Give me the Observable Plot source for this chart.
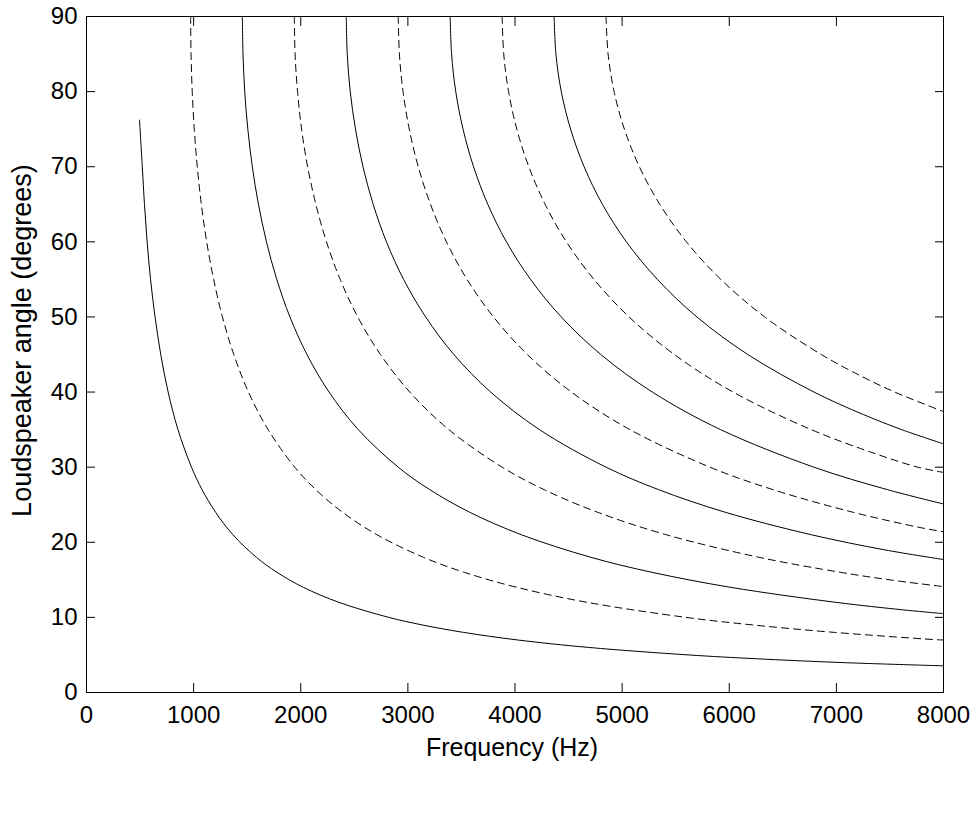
<!DOCTYPE html>
<html><head><meta charset="utf-8">
<script src="https://cdn.jsdelivr.net/npm/d3@7"></script>
<script src="https://cdn.jsdelivr.net/npm/@observablehq/plot@0.6"></script>
<style>html,body{margin:0;padding:0;background:#fff} #chart svg{display:block}</style>
</head><body><div id="chart"></div><script>
// Each curve: [frequency (Hz), loudspeaker angle (degrees)]
const curve1 = [[495,76.2],[521,70],[541,65],[566,60],[598,55],[640,50],[693,45],[762,40],[854,35],[980,30],[1079,27],[1205,24],[1367,21],[1586,18],[1778,16],[2025,14],[2357,12],[2822,10],[3132,9],[3521,8],[4021,7],[4688,6],[5622,5],[6245,4.5],[7024,4],[8000,3.55]];
const curve2 = [[972,90],[976,85],[987,80],[1006,75],[1034,70],[1072,65],[1122,60],[1187,55],[1269,50],[1375,45],[1512,40],[1695,35],[1944,30],[2141,27],[2390,24],[2712,21],[3145,18],[3526,16],[4018,14],[4675,12],[5597,10],[6214,9],[6984,8],[7976,7],[8000,7.0]];
const curve3 = [[1455,90],[1461,85],[1477,80],[1506,75],[1548,70],[1605,65],[1680,60],[1776,55],[1899,50],[2058,45],[2264,40],[2537,35],[2910,30],[3205,27],[3577,24],[4060,21],[4708,18],[5279,16],[6014,14],[6998,12],[7625,11],[8000,10.5]];
const curve4 = [[1940,90],[1947,85],[1970,80],[2008,75],[2064,70],[2141,65],[2240,60],[2368,55],[2532,50],[2744,45],[3018,40],[3382,35],[3880,30],[4273,27],[4770,24],[5413,21],[6278,18],[7038,16],[7496,15],[8000,14.1]];
const curve5 = [[2425,90],[2434,85],[2462,80],[2511,75],[2581,70],[2676,65],[2800,60],[2960,55],[3166,50],[3429,45],[3773,40],[4228,35],[4850,30],[5342,27],[5962,24],[6767,21],[7448,19],[8000,17.7]];
const curve6 = [[2910,90],[2921,85],[2955,80],[3013,75],[3097,70],[3211,65],[3360,60],[3552,55],[3799,50],[4115,45],[4527,40],[5073,35],[5820,30],[6410,27],[7154,24],[7768,22],[8000,21.4]];
const curve7 = [[3395,90],[3408,85],[3447,80],[3515,75],[3613,70],[3746,65],[3920,60],[4145,55],[4432,50],[4801,45],[5282,40],[5919,35],[6790,30],[7478,27],[8000,25.1]];
const curve8 = [[3880,90],[3895,85],[3940,80],[4017,75],[4129,70],[4281,65],[4480,60],[4737,55],[5065,50],[5487,45],[6036,40],[6765,35],[7322,32],[7760,30],[8000,29.3]];
const curve9 = [[4365,90],[4382,85],[4432,80],[4519,75],[4645,70],[4816,65],[5040,60],[5329,55],[5698,50],[6173,45],[6791,40],[7253,37],[7610,35],[8000,33.1]];
const curve10 = [[4850,90],[4869,85],[4925,80],[5021,75],[5161,70],[5351,65],[5600,60],[5921,55],[6331,50],[6859,45],[7248,42],[7545,40],[8000,37.4]];

const curves = [curve1, curve2, curve3, curve4, curve5, curve6, curve7, curve8, curve9, curve10];
const curveDashed = [false, true, false, true, false, true, false, true, false, true];

const xTicks = [0, 1000, 2000, 3000, 4000, 5000, 6000, 7000, 8000];
const yTicks = [0, 10, 20, 30, 40, 50, 60, 70, 80, 90];
const xLabel = "Frequency (Hz)";
const yLabel = "Loudspeaker angle (degrees)";

const rows = curves.flatMap((c, i) => c.map(([f, a]) => ({curve: i, f, a, dashed: curveDashed[i]})));

const chart = Plot.plot({
  width: 976,
  height: 829,
  marginLeft: 86,
  marginRight: 33,
  marginTop: 16,
  marginBottom: 137,
  style: {fontFamily: "Arial, 'Liberation Sans', sans-serif", fontSize: "24px", color: "#000", background: "#fff"},
  x: {domain: [0, 8000]},
  y: {domain: [0, 90]},
  marks: [
    Plot.line(rows.filter(d => !d.dashed), {x: "f", y: "a", z: "curve", stroke: "#000", strokeWidth: 1, curve: "catmull-rom"}),
    Plot.line(rows.filter(d => d.dashed), {x: "f", y: "a", z: "curve", stroke: "#000", strokeWidth: 1, strokeDasharray: "7,5", curve: "catmull-rom"}),
    Plot.axisX(xTicks, {anchor: "bottom", tickSize: -9, tickPadding: 22, label: null, tickFormat: d => String(d), fontSize: 24}),
    Plot.axisX(xTicks, {anchor: "top", tickSize: -9, label: null, tickFormat: () => ""}),
    Plot.axisY(yTicks, {anchor: "left", tickSize: -9, tickPadding: 18, label: null, tickFormat: d => String(d), fontSize: 24}),
    Plot.axisY(yTicks, {anchor: "right", tickSize: -9, label: null, tickFormat: () => ""}),
    Plot.frame({stroke: "#000", strokeWidth: 1}),
    Plot.text([xLabel], {text: d => d, frameAnchor: "bottom", lineAnchor: "top", dy: 46, dx: -3, fontSize: 25, fill: "#000"}),
    Plot.text([yLabel], {text: d => d, frameAnchor: "left", textAnchor: "middle", rotate: -90, dx: -64, dy: -14, fontSize: 27, fill: "#000"})
  ]
});
document.getElementById("chart").appendChild(chart);
</script></body></html>
